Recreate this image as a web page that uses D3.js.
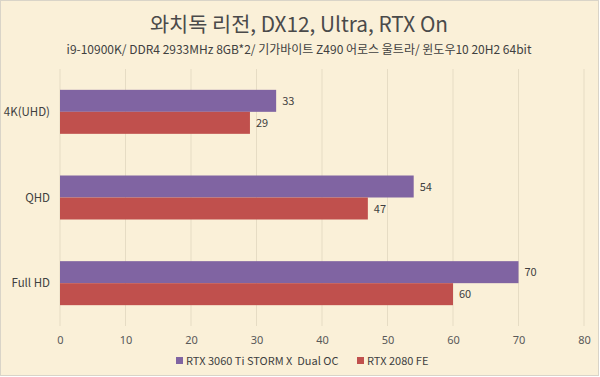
<!DOCTYPE html>
<html>
<head>
<meta charset="utf-8">
<script src="https://cdn.jsdelivr.net/npm/d3@7"></script>
<style>
  body { margin: 0; background: #fff; }
  text { font-family: "Noto Sans CJK KR", "Noto Sans", sans-serif; }
</style>
</head>
<body>
<div id="main"></div>
<script>
var categories = ["4K(UHD)", "QHD", "Full HD"];
var seriesNames = ["RTX 3060 Ti STORM X  Dual OC", "RTX 2080 FE"];
var rtx3060 = [33, 54, 70];
var rtx2080 = [29, 47, 60];
var xTicks = [0, 10, 20, 30, 40, 50, 60, 70, 80];
var colors = ["#8064a2", "#c0504d"];

var width = 600, height = 377;
var svg = d3.select("#main").append("svg")
    .attr("width", width)
    .attr("height", height);

svg.append("rect")
    .attr("x", 0.5).attr("y", 0.5)
    .attr("width", width - 2).attr("height", height - 2)
    .attr("fill", "#faf0d8")
    .attr("stroke", "#d9d4c8");

svg.append("text")
    .attr("x", 299).attr("y", 32)
    .attr("text-anchor", "middle")
    .attr("font-size", 20.8)
    .attr("fill", "#4a4a4a")
    .text("와치독 리전, DX12, Ultra, RTX On");

svg.append("text")
    .attr("x", 299).attr("y", 54)
    .attr("text-anchor", "middle")
    .attr("font-size", 12)
    .attr("fill", "#404040")
    .text("i9-10900K/ DDR4 2933MHz 8GB*2/ 기가바이트 Z490 어로스 울트라/ 윈도우10 20H2 64bit");

var x = d3.scaleLinear().domain([0, 80]).range([60, 584]);
var y = d3.scaleBand().domain(categories).range([69, 326]);

var g = svg.append("g");

// gridlines
g.selectAll("line.grid")
    .data(xTicks)
    .enter()
    .append("line")
    .attr("x1", function(d) { return x(d); })
    .attr("x2", function(d) { return x(d); })
    .attr("y1", 69).attr("y2", 326)
    .attr("stroke", "#e6dcc4")
    .attr("stroke-width", 1);

var barH = 22;
var series = [rtx3060, rtx2080];

series.forEach(function(vals, si) {
  var bars = g.selectAll("rect.s" + si)
      .data(vals)
      .enter();
  bars.append("rect")
      .attr("x", x(0))
      .attr("y", function(d, i) { return y(categories[i]) + y.bandwidth() / 2 - barH + si * barH; })
      .attr("width", function(d) { return x(d) - x(0); })
      .attr("height", barH)
      .attr("fill", colors[si]);
  bars.append("text")
      .attr("x", function(d) { return x(d) + 6; })
      .attr("y", function(d, i) { return y(categories[i]) + y.bandwidth() / 2 - barH / 2 + si * barH + 4; })
      .attr("font-size", 11)
      .attr("fill", "#404040")
      .text(function(d) { return d; });
});

// category labels
g.selectAll("text.cat")
    .data(categories)
    .enter()
    .append("text")
    .attr("x", 50)
    .attr("y", function(d) { return y(d) + y.bandwidth() / 2 + 4; })
    .attr("text-anchor", "end")
    .attr("font-size", 11.5)
    .attr("fill", "#404040")
    .text(function(d) { return d; });

// x axis labels
var xAxis = d3.axisBottom(x).tickValues(xTicks).tickSize(0).tickPadding(0);
var ax = svg.append("g").attr("transform", "translate(0,336)").call(xAxis);
ax.select(".domain").remove();
ax.selectAll("text")
    .attr("font-size", 11)
    .attr("fill", "#595959")
    .style("font-family", "\"Noto Sans\", sans-serif");

// legend
var legendX = [176, 357];
seriesNames.forEach(function(name, i) {
  svg.append("rect")
      .attr("x", legendX[i]).attr("y", 357)
      .attr("width", 7).attr("height", 7)
      .attr("fill", colors[i]);
  svg.append("text")
      .attr("x", legendX[i] + 10).attr("y", 365)
      .attr("font-size", 11)
      .attr("fill", "#404040")
      .attr("xml:space", "preserve")
      .style("white-space", "pre")
      .text(name);
});
</script>
</body>
</html>
